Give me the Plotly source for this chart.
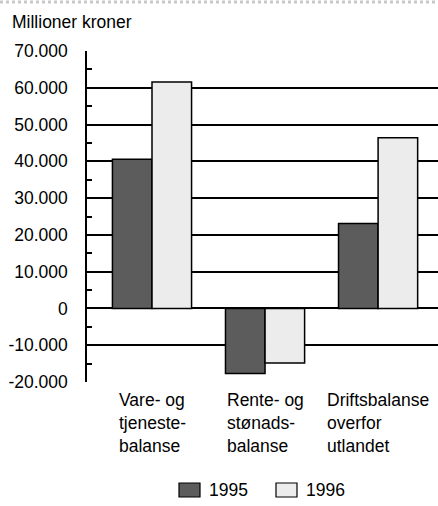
import plotly.graph_objects as go

categories = ["Vare- og<br>tjeneste-<br>balanse", "Rente- og<br>stønads-<br>balanse", "Driftsbalanse<br>overfor<br>utlandet"]
years = ["1995", "1996"]
values_1995 = [40600, -17700, 23100]
values_1996 = [61600, -14800, 46400]
tick_vals = [70000, 60000, 50000, 40000, 30000, 20000, 10000, 0, -10000, -20000]
tick_text = ["70.000", "60.000", "50.000", "40.000", "30.000", "20.000", "10.000", "0", "-10.000", "-20.000"]

FONT = "Liberation Sans, Arial, sans-serif"
FS = 17.5
colors = ["#5c5c5c", "#ececec"]
x_idx = list(range(len(categories)))

fig = go.Figure()
for yr, vals, col in zip(years, [values_1995, values_1996], colors):
    fig.add_trace(go.Bar(x=x_idx, y=vals, name=yr, showlegend=False, hoverinfo="skip",
                         marker=dict(color=col, line=dict(color="black", width=1.5))))

L, T, B = 87, 51, 124
W, H = 438, 506
ph = H - T - B
pw = W - L


def px_x(x):
    return (x - L) / pw


def px_y(y):
    return (H - B - y) / ph


for i, c in enumerate(categories):
    fig.add_annotation(x=i, y=0, xref="x", yref="paper", text=c, showarrow=False,
                       xanchor="center", yanchor="top", align="left", yshift=-6,
                       font=dict(family=FONT, size=FS, color="black"))

fig.add_annotation(x=px_x(10), y=px_y(22), xref="paper", yref="paper",
                   text="Millioner kroner", showarrow=False, xanchor="left", yanchor="middle",
                   font=dict(family=FONT, size=FS, color="black"))

# custom legend
leg_x = [179, 276]
for yr, col, lx in zip(years, colors, leg_x):
    fig.add_shape(type="rect", xref="paper", yref="paper",
                  x0=px_x(lx), x1=px_x(lx + 21), y0=px_y(497), y1=px_y(483),
                  fillcolor=col, line=dict(color="black", width=1.2))
    fig.add_annotation(x=px_x(lx + 28), y=px_y(490), xref="paper", yref="paper",
                       text=yr, showarrow=False, xanchor="left", yanchor="middle",
                       font=dict(family=FONT, size=FS, color="black"))

fig.add_shape(type="line", xref="paper", yref="paper", x0=px_x(0), x1=px_x(W),
              y0=px_y(2), y1=px_y(2),
              line=dict(color="#c8c8c8", width=3, dash="dot"))

fig.update_layout(
    width=W, height=H,
    margin=dict(l=L, r=0, t=T, b=B, pad=0, autoexpand=False),
    paper_bgcolor="white", plot_bgcolor="white",
    barmode="group", bargap=0.3, bargroupgap=0,
    font=dict(family=FONT, size=FS, color="black"),
    showlegend=False,
    xaxis=dict(range=[-0.575, 2.53], showticklabels=False, ticks="", showgrid=False,
               zeroline=False, showline=False, automargin=False),
    yaxis=dict(range=[-20000, 70000], tickvals=tick_vals, ticktext=tick_text,
               showgrid=True, gridcolor="black", gridwidth=1.5,
               zeroline=True, zerolinecolor="black", zerolinewidth=1.5,
               showline=True, linecolor="black", linewidth=1.5,
               ticks="", ticklabelstandoff=14, automargin=False,
               minor=dict(tickvals=[65000, 55000, 45000, 35000, 25000, 15000, 5000, -5000, -15000],
                          ticks="inside", ticklen=5, tickcolor="black", tickwidth=1.5, showgrid=False),
               tickfont=dict(family=FONT, size=FS)),
)

fig.write_html("out.html", config={"displayModeBar": False},
               post_script="document.body.style.margin='0';document.body.style.padding='0';document.body.style.overflow='hidden';")
